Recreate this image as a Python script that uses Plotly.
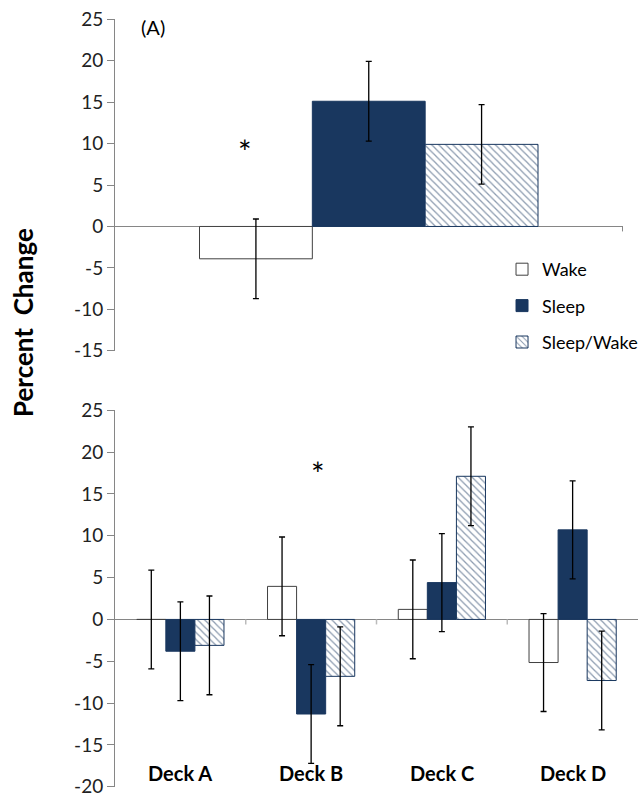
import plotly.graph_objects as go

# ---- data ----
series = ["Wake", "Sleep", "Sleep/Wake"]
top_category = ["All"]
top_values = {"Wake": [-3.9], "Sleep": [15.1], "Sleep/Wake": [9.9]}
top_errors = {"Wake": [4.8], "Sleep": [4.8], "Sleep/Wake": [4.8]}

decks = ["Deck A", "Deck B", "Deck C", "Deck D"]
deck_values = {
    "Wake": [0.0, 3.95, 1.2, -5.15],
    "Sleep": [-3.8, -11.3, 4.4, 10.7],
    "Sleep/Wake": [-3.1, -6.8, 17.1, -7.3],
}
deck_errors = {
    "Wake": [5.9, 5.9, 5.9, 5.85],
    "Sleep": [5.9, 5.9, 5.85, 5.85],
    "Sleep/Wake": [5.9, 5.9, 5.9, 5.9],
}
y_ticks_top = [-15, -10, -5, 0, 5, 10, 15, 20, 25]
y_ticks_bottom = [-20, -15, -10, -5, 0, 5, 10, 15, 20, 25]

# ---- styles ----
NAVY = "#19375F"
FONT = "Lato"
styles = {
    "Wake": dict(color="white", line=dict(color="#404040", width=1)),
    "Sleep": dict(color=NAVY, line=dict(color=NAVY, width=1)),
    "Sleep/Wake": dict(color="white", line=dict(color=NAVY, width=1),
                       pattern=dict(shape="\\", fgcolor=NAVY, bgcolor="white",
                                    size=5, solidity=0.25)),
}

fig = go.Figure()
for i, s in enumerate(series):
    fig.add_trace(go.Bar(
        x=top_category, y=top_values[s], name=s, marker=styles[s],
        error_y=dict(type="data", array=top_errors[s], color="black",
                     thickness=1.3, width=3),
        xaxis="x", yaxis="y", legendgroup=s, showlegend=True,
    ))
for s in series:
    fig.add_trace(go.Bar(
        x=decks, y=deck_values[s], name=s, marker=styles[s],
        error_y=dict(type="data", array=deck_errors[s], color="black",
                     thickness=1.3, width=3),
        xaxis="x2", yaxis="y2", legendgroup=s, showlegend=False,
    ))

H = 799
t, b = 19, 12
ph = H - t - b
top_dom = [1 - (351 - t) / ph, 1]
bot_dom = [0, (H - b - 410) / ph]

axis_grey = "#868686"
yax_common = dict(showline=True, linecolor=axis_grey, linewidth=1,
                  ticks="outside", ticklen=7, tickcolor=axis_grey,
                  showgrid=False, zeroline=True, zerolinecolor=axis_grey,
                  zerolinewidth=1, ticklabeloverflow="allow",
                  tickfont=dict(family=FONT, size=19, color="#222"))
xax_common = dict(showline=False, showticklabels=False, ticks="", showgrid=False,
                  zeroline=False)

fig.update_layout(
    width=638, height=799,
    margin=dict(l=115, r=0, t=t, b=b, autoexpand=False),
    plot_bgcolor="white", paper_bgcolor="white",
    barmode="group", bargap=0.333, bargroupgap=0,
    font=dict(family=FONT, size=17, color="black"),
    xaxis=dict(domain=[0, 508 / 523], anchor="y", **xax_common),
    yaxis=dict(domain=top_dom, anchor="x", range=[-15.02, 25.02],
               tickvals=y_ticks_top, ticktext=[str(v) for v in y_ticks_top],
               **yax_common),
    xaxis2=dict(domain=[0, 1], anchor="y2", **xax_common),
    yaxis2=dict(domain=bot_dom, anchor="x2", range=[-20.02, 25.02],
                tickvals=y_ticks_bottom, ticktext=[str(v) for v in y_ticks_bottom],
                **yax_common),
    legend=dict(x=0.74, y=1 - (251 - t) / ph, xanchor="left", yanchor="top",
                font=dict(family=FONT, size=18), tracegroupgap=10,
                bgcolor="rgba(0,0,0,0)"),
)

# category separator ticks on the zero lines
for xv in [0.5]:
    fig.add_shape(type="line", xref="x", yref="y", x0=xv, x1=xv, y0=0, y1=-0.6,
                  line=dict(color=axis_grey, width=1))
for xv in [0.5, 1.5, 2.5]:
    fig.add_shape(type="line", xref="x2", yref="y2", x0=xv, x1=xv, y0=0, y1=-0.6,
                  line=dict(color="#BBBBBB", width=1.5))

# deck labels
for d in decks:
    fig.add_annotation(x=d, y=-18.3, xref="x2", yref="y2", text=f"<b>{d}</b>",
                       showarrow=False, font=dict(family=FONT, size=20))

# panel labels and significance marks
fig.add_annotation(x=24 / 523, y=24.1, xref="paper", yref="y", text="(A)",
                   xanchor="left", showarrow=False, font=dict(family=FONT, size=20))
fig.add_annotation(x=24 / 523, y=26.6, xref="paper", yref="y2", text="(B)",
                   xanchor="left", showarrow=False, font=dict(family=FONT, size=20))
fig.add_annotation(x=-0.244, y=9.0, xref="x", yref="y", text="*",
                   showarrow=False, font=dict(family=FONT, size=32))
fig.add_annotation(x=1.05, y=17.4, xref="x2", yref="y2", text="*",
                   showarrow=False, font=dict(family=FONT, size=32))

# y-axis title
fig.add_annotation(x=-92 / 523, y=1 - (323 - t) / ph, xref="paper", yref="paper",
                   xanchor="center", yanchor="middle",
                   text="<b>Percent  Change</b>", textangle=-90, showarrow=False,
                   font=dict(family=FONT, size=26))

fig.write_html("out.html")
